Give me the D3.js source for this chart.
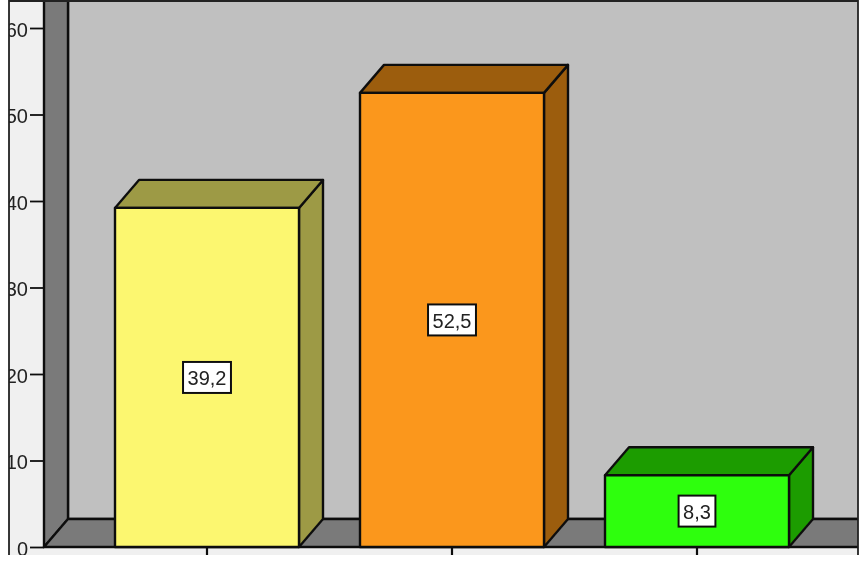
<!DOCTYPE html>
<html>
<head>
<meta charset="utf-8">
<script src="https://cdnjs.cloudflare.com/ajax/libs/d3/7.8.5/d3.min.js"></script>
<style>
  html, body { margin: 0; padding: 0; background: #fff; }
  svg { display: block; }
  text { font-family: "Liberation Sans", Arial, sans-serif; fill: #222; }
</style>
</head>
<body>
<svg id="chart" width="862" height="571"></svg>
<script>
var categories = ['A', 'B', 'C'];
var percentages = [39.2, 52.5, 8.3];
var valueLabels = ['39,2', '52,5', '8,3'];
var frontColors = ['#fcf770', '#fb971c', '#2eff08'];
var shadeColors = ['#9d9a45', '#9c5d11', '#1f9c02'];
var yTicks = [0, 10, 20, 30, 40, 50, 60];

var depthX = 24, depthY = 28;
var frame = {left: 9, right: 858, top: 1, bottom: 555};
var floorY = 547, wallX = 44;

var svg = d3.select('#chart');

// everything gets a small blur, the original is a scaled up screenshot
var defs = svg.append('defs');
defs.append('filter').attr('id', 'soft')
  .append('feGaussianBlur').attr('stdDeviation', 0.6);
defs.append('clipPath').attr('id', 'frameClip')
  .append('rect')
  .attr('x', frame.left)
  .attr('y', frame.top)
  .attr('width', frame.right - frame.left)
  .attr('height', frame.bottom - frame.top);

var y = d3.scaleLinear().domain([0, 60]).range([floorY, 28]);
var x = d3.scaleBand().domain(categories).range([115, 789]).paddingInner(0.249);

var root = svg.append('g').attr('filter', 'url(#soft)');
var g = root.append('g').attr('clip-path', 'url(#frameClip)');

function poly(parent, points, fill) {
  return parent.append('polygon')
    .attr('points', points.map(function(p) { return p.join(','); }).join(' '))
    .attr('fill', fill)
    .attr('stroke', '#111')
    .attr('stroke-width', 2.4)
    .attr('stroke-linejoin', 'round');
}

// panel behind the axes
g.append('rect')
  .attr('x', frame.left).attr('y', frame.top)
  .attr('width', frame.right - frame.left).attr('height', frame.bottom - frame.top)
  .attr('fill', '#f0f0f0');

// back wall, side wall and floor
poly(g, [[wallX + depthX, frame.top - 3], [frame.right + 3, frame.top - 3], [frame.right + 3, floorY - depthY], [wallX + depthX, floorY - depthY]], '#c0c0c0');
poly(g, [[wallX, frame.top - 3], [wallX + depthX, frame.top - 3], [wallX + depthX, floorY - depthY], [wallX, floorY]], '#7a7a7a');
poly(g, [[wallX, floorY], [wallX + depthX, floorY - depthY], [frame.right + 3, floorY - depthY], [frame.right + 3, floorY]], '#7a7a7a');

// axes
var yAxis = d3.axisLeft(y).tickValues(yTicks).tickSize(14).tickPadding(2).tickFormat(d3.format('d'));
var xAxis = d3.axisBottom(x).tickSize(8).tickFormat('');

var yGroup = g.append('g').attr('transform', 'translate(' + wallX + ',0)').call(yAxis);
var xGroup = g.append('g').attr('transform', 'translate(0,' + floorY + ')').call(xAxis);
yGroup.select('.domain').remove();
xGroup.select('.domain').remove();
yGroup.selectAll('.tick line').attr('stroke', '#111').attr('stroke-width', 1.8);
xGroup.selectAll('.tick line').attr('stroke', '#111').attr('stroke-width', 2.2);
yGroup.selectAll('.tick text')
  .attr('font-size', 20)
  .attr('font-family', '"Liberation Sans", Arial, sans-serif')
  .attr('dy', '0.4em')
  .attr('fill', '#222');

// bars
categories.forEach(function(cat, i) {
  var x0 = x(cat), x1 = x0 + x.bandwidth();
  var top = y(percentages[i]);
  var bar = g.append('g');

  poly(bar, [[x1, top], [x1 + depthX, top - depthY], [x1 + depthX, floorY - depthY], [x1, floorY]], shadeColors[i]);
  poly(bar, [[x0, top], [x0 + depthX, top - depthY], [x1 + depthX, top - depthY], [x1, top]], shadeColors[i]);
  poly(bar, [[x0, top], [x1, top], [x1, floorY], [x0, floorY]], frontColors[i]);

  var cx = (x0 + x1) / 2;
  var cy = y(percentages[i] / 2);
  var label = bar.append('text')
    .attr('x', cx)
    .attr('y', cy + 8)
    .attr('text-anchor', 'middle')
    .attr('font-size', 20)
    .text(valueLabels[i]);
  var box = label.node().getBBox();
  bar.insert('rect', 'text')
    .attr('x', cx - box.width / 2 - 4.5)
    .attr('y', cy - 15.5)
    .attr('width', box.width + 9)
    .attr('height', 31)
    .attr('fill', '#fff')
    .attr('stroke', '#111')
    .attr('stroke-width', 2);
});

// outer frame has no bottom line
root.append('path')
  .attr('d', 'M' + frame.left + ',' + frame.bottom + 'V' + frame.top + 'H' + frame.right + 'V' + frame.bottom)
  .attr('fill', 'none')
  .attr('stroke', '#222')
  .attr('stroke-width', 1.8);
</script>
</body>
</html>
